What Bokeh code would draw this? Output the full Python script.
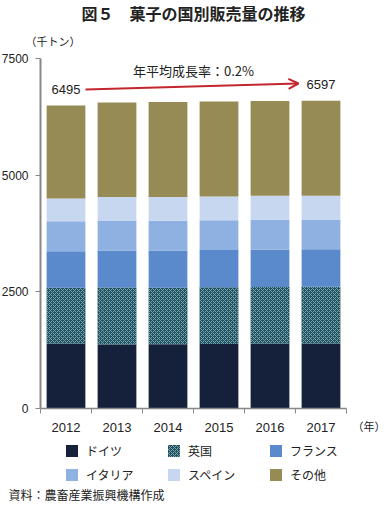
from bokeh.plotting import figure
from bokeh.models import (ColumnDataSource, Range1d, FixedTicker, Label, Legend,
                          LegendItem, Arrow, OpenHead)
from bokeh.embed import file_html
from bokeh.resources import INLINE

# ---- data (thousand tonnes) ----
years = [2012, 2013, 2014, 2015, 2016, 2017]
germany = [1385, 1370, 1375, 1380, 1385, 1395]
uk = [1200, 1225, 1215, 1220, 1220, 1215]
france = [785, 790, 795, 795, 800, 800]
italy = [640, 645, 640, 640, 640, 640]
spain = [490, 500, 505, 510, 515, 510]
other = [1995, 2025, 2040, 2035, 2030, 2037]
series_names = ["ドイツ", "英国", "フランス", "イタリア", "スペイン", "その他"]
y_ticks = [0, 2500, 5000, 7500]
growth_text = "年平均成長率：0.2%"

keys = ["germany", "uk", "france", "italy", "spain", "other"]
source = ColumnDataSource(dict(x=years, germany=germany, uk=uk, france=france,
                               italy=italy, spain=spain, other=other))
totals = [sum(v) for v in zip(germany, uk, france, italy, spain, other)]

JP = "Noto Sans CJK JP"
NUM = "Liberation Sans"

# ---- layout (pixels) ----
W, H = 385, 505
AX_LEFT, AX_RIGHT, AX_TOP, AX_BOTTOM = 40, 346, 58, 408   # plot area on the canvas
y_max = y_ticks[-1]
y_per_px = y_max / (AX_BOTTOM - AX_TOP)
x_per_px = len(years) / (AX_RIGHT - AX_LEFT)
x0 = years[0] - 0.5
x_range = Range1d(x0 - AX_LEFT * x_per_px, x0 + (W - AX_LEFT) * x_per_px)
y_range = Range1d(-(H - AX_BOTTOM) * y_per_px, y_max + AX_TOP * y_per_px)

p = figure(width=W, height=H, output_backend="svg", toolbar_location=None,
           x_range=x_range, y_range=y_range, min_border=0)
p.outline_line_color = None
p.xgrid.visible = False
p.ygrid.visible = False
p.background_fill_color = "white"
p.border_fill_color = "white"

colors = ["#15213b", "#24505e", "#5a89cc", "#8fb1e1", "#c6d7ef", "#968b55"]
hatches = [" ", "x", " ", " ", " ", " "]
rends = p.vbar_stack(keys, x="x", width=0.76, source=source,
                     fill_color=colors, line_color=None,
                     hatch_pattern=hatches, hatch_color="#72a6b0",
                     hatch_scale=4, hatch_weight=1)

# axes (placed at fixed data locations)
xa = p.xaxis[0]
xa.fixed_location = 0
xa.bounds = (years[0] - 0.5, years[-1] + 0.5)
xa.ticker = FixedTicker(ticks=years, minor_ticks=[y - 0.5 for y in years] + [years[-1] + 0.5])
xa.major_tick_line_color = None
xa.major_tick_out = 0
xa.major_tick_in = 0
xa.minor_tick_out = 5
xa.minor_tick_in = 0
xa.minor_tick_line_color = "#888888"
xa.axis_line_color = "#888888"
xa.axis_line_width = 1.5
xa.major_label_overrides = {y: str(y) for y in years}
xa.major_label_text_font = NUM
xa.major_label_text_font_size = "13px"
xa.major_label_text_color = "#222222"
xa.major_label_standoff = 9

ya = p.yaxis[0]
ya.fixed_location = years[0] - 0.5
ya.bounds = (0, y_max)
ya.ticker = FixedTicker(ticks=y_ticks)
ya.major_tick_out = 5
ya.major_tick_in = 0
ya.minor_tick_line_color = None
ya.major_tick_line_color = "#888888"
ya.axis_line_color = "#888888"
ya.axis_line_width = 2
ya.major_label_text_font = NUM
ya.major_label_text_font_size = "12px"
ya.major_label_text_color = "#222222"
ya.major_label_standoff = 7

# legend: 2 rows x 3 columns, read row by row (Bokeh fills column by column)
ncols, nrows = 3, 2
items = [LegendItem(label=n, renderers=[r]) for n, r in zip(series_names, rends)]
ordered = [items[r * ncols + c] for c in range(ncols) for r in range(nrows)]
legend = Legend(items=ordered, ncols=ncols, nrows=nrows, location=(64, 22),
                glyph_width=15, glyph_height=15, label_height=15, label_width=73,
                label_standoff=7, spacing=7, padding=0, margin=0,
                border_line_color=None, background_fill_alpha=0,
                label_text_font=JP, label_text_font_size="12px",
                label_text_color="#222222")
p.add_layout(legend, "center")

# value labels and growth arrow
for i in (0, len(years) - 1):
    p.add_layout(Label(x=years[i], y=totals[i], y_offset=16, text=str(totals[i]),
                       text_align="center", text_baseline="middle",
                       text_font=NUM, text_font_size="13px", text_color="#222222"))
p.add_layout(Arrow(x_start=85, y_start=416, x_end=298, y_end=422,
                   start_units="screen", end_units="screen",
                   line_color="#c3262e", line_width=2,
                   end=OpenHead(size=10, line_color="#c3262e", line_width=2)))
p.add_layout(Label(x=193, y=435, x_units="screen", y_units="screen", text=growth_text,
                   text_align="center", text_baseline="middle",
                   text_font=JP, text_font_size="13px", text_color="#222222"))

# texts
p.add_layout(Label(x=193, y=493, x_units="screen", y_units="screen",
                   text="図５　菓子の国別販売量の推移", text_align="center",
                   text_baseline="middle", text_font=JP, text_font_size="16px",
                   text_font_style="bold", text_color="#222222"))
p.add_layout(Label(x=25, y=465, x_units="screen", y_units="screen", text="（千トン）",
                   text_align="left", text_baseline="middle", text_font=JP,
                   text_font_size="11px", text_color="#222222"))
p.add_layout(Label(x=352, y=80, x_units="screen", y_units="screen", text="（年）",
                   text_align="left", text_baseline="middle", text_font=JP,
                   text_font_size="11px", text_color="#222222"))
p.add_layout(Label(x=8, y=11, x_units="screen", y_units="screen",
                   text="資料：農畜産業振興機構作成", text_align="left",
                   text_baseline="middle", text_font=JP, text_font_size="12px",
                   text_color="#222222"))

open("out.html", "w").write(file_html(p, INLINE))
